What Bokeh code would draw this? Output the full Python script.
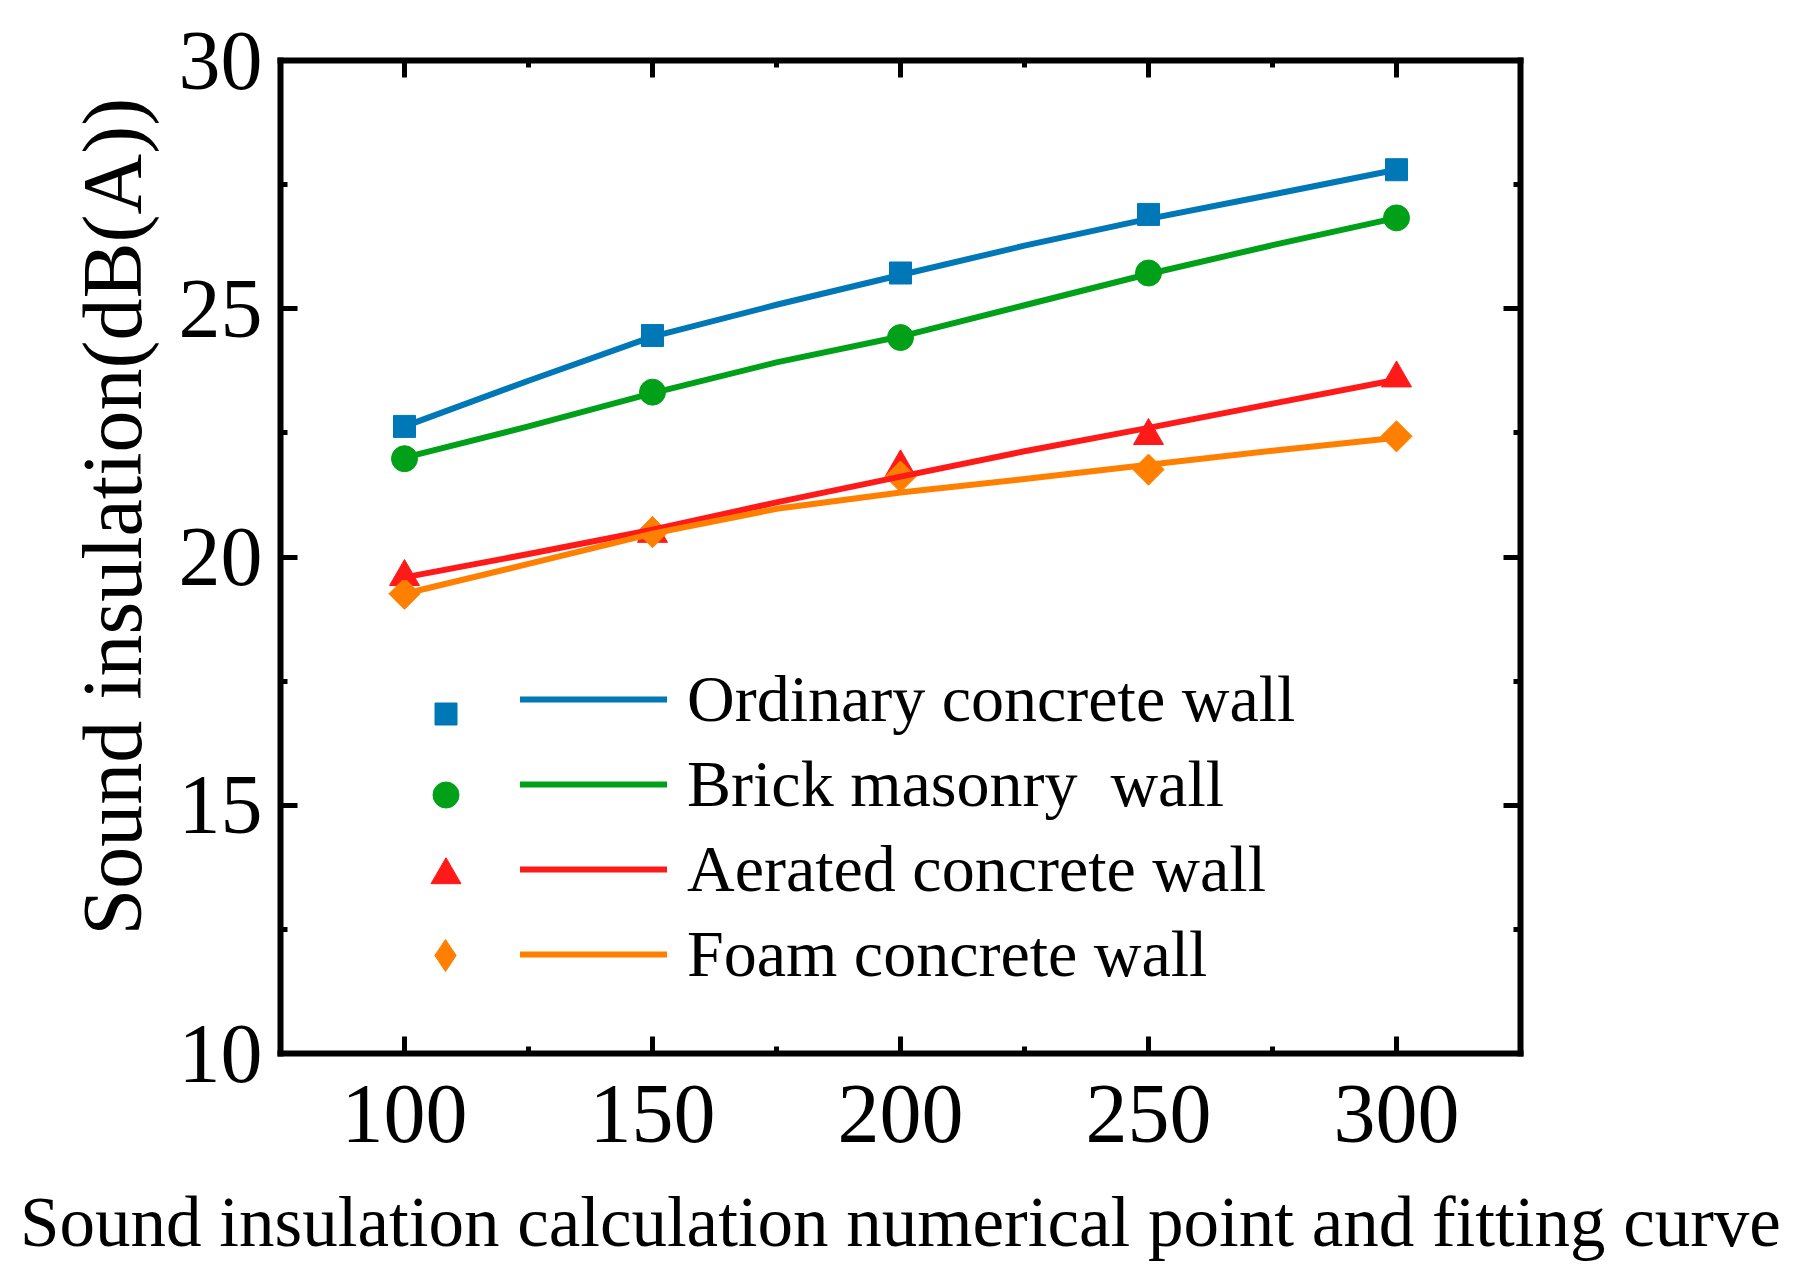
from math import pi
from bokeh.plotting import figure
from bokeh.models import (Range1d, FixedTicker, LinearAxis, Legend, LegendItem,
                          Title, CustomJSTickFormatter)
from bokeh.embed import file_html
from bokeh.resources import INLINE

# ---- data ----
thickness = [100, 150, 200, 250, 300]
ordinary = [22.63, 24.46, 25.72, 26.90, 27.80]
brick = [21.98, 23.32, 24.42, 25.72, 26.83]
aerated = [19.60, 20.47, 21.81, 22.44, 23.60]
foam = [19.26, 20.50, 21.62, 21.76, 22.43]

fit_x = [100, 125, 150, 175, 200, 225, 250, 275, 300]
ordinary_fit = [22.63, 23.55, 24.44, 25.08, 25.68, 26.27, 26.81, 27.30, 27.80]
brick_fit = [22.00, 22.63, 23.30, 23.92, 24.44, 25.07, 25.70, 26.28, 26.83]
aerated_fit = [19.59, 20.06, 20.55, 21.10, 21.62, 22.13, 22.60, 23.09, 23.57]
foam_fit = [19.26, 19.86, 20.47, 20.97, 21.30, 21.57, 21.86, 22.14, 22.40]

series_labels = ["Ordinary concrete wall", "Brick masonry  wall",
                 "Aerated concrete wall", "Foam concrete wall"]
x_ticks = [100, 150, 200, 250, 300]
x_minor = [125, 175, 225, 275]
y_ticks = [10, 15, 20, 25, 30]
y_minor = [12.5, 17.5, 22.5, 27.5]
x_title = "Sound insulation calculation numerical point and fitting curve"
y_title = "Sound insulation(dB(A))"

FONT = "Liberation Serif"
colors = ["#0077B6", "#00A019", "#FF1A1A", "#FF8000"]

p = figure(width=1788, height=1266, x_range=Range1d(75, 325), y_range=Range1d(10, 30),
           output_backend="svg", toolbar_location=None,
           min_border_left=280, min_border_right=268, min_border_top=60, min_border_bottom=213)
p.xgrid.visible = False
p.ygrid.visible = False
p.outline_line_color = None
p.background_fill_color = "white"
p.border_fill_color = "white"


def style_axis(ax):
    ax.axis_line_width = 6
    ax.axis_line_color = "black"
    ax.axis_line_cap = "square"
    ax.major_tick_in = 17
    ax.major_tick_out = 0
    ax.minor_tick_in = 7
    ax.minor_tick_out = 0
    ax.major_tick_line_width = 5
    ax.minor_tick_line_width = 5
    ax.major_tick_line_color = "black"
    ax.minor_tick_line_color = "black"
    ax.major_label_text_font = FONT
    ax.major_label_text_font_size = "84px"
    ax.major_label_text_color = "black"


xax = p.xaxis[0]
yax = p.yaxis[0]
xax.ticker = FixedTicker(ticks=x_ticks, minor_ticks=x_minor)
yax.ticker = FixedTicker(ticks=y_ticks, minor_ticks=y_minor)
style_axis(xax)
style_axis(yax)
xax.major_label_standoff = 32
yax.major_label_standoff = 18
xax.axis_label = x_title
xax.axis_label_text_font = FONT
xax.axis_label_text_font_size = "71px"
xax.axis_label_text_font_style = "normal"
xax.axis_label_text_color = "black"
xax.axis_label_standoff = 38

blank = CustomJSTickFormatter(code="return ''")
top = LinearAxis(ticker=FixedTicker(ticks=x_ticks, minor_ticks=x_minor), formatter=blank)
right = LinearAxis(ticker=FixedTicker(ticks=y_ticks, minor_ticks=y_minor), formatter=blank)
for ax in (top, right):
    style_axis(ax)
    ax.major_label_text_font_size = "1px"
    ax.major_label_standoff = 0
p.add_layout(top, "above")
p.add_layout(right, "right")

ytitle = Title(text=y_title, align="left", offset=118, standoff=33,
               text_font=FONT, text_font_size="84px", text_font_style="normal",
               text_color="black")
p.add_layout(ytitle, "left")

ys = [ordinary, brick, aerated, foam]
fits = [ordinary_fit, brick_fit, aerated_fit, foam_fit]
markers = [("square", 22, 0.0), ("circle", 26, 0.0), ("triangle", 30, 0.0), ("square", 22, pi / 4)]

marker_renderers = []
for yv, c, (m, s, a) in zip(ys, colors, markers):
    r = p.scatter(thickness, yv, marker=m, size=s, angle=a, fill_color=c, line_color=c, line_width=1)
    marker_renderers.append(r)

# legend key for the diamond (rotated squares lose their angle inside a legend)
diamond_key = p.scatter(thickness, foam, marker="diamond", size=32, fill_color=colors[3],
                        line_color=colors[3], visible=False)
legend_keys = marker_renderers[:3] + [diamond_key]

line_renderers = []
for fv, c in zip(fits, colors):
    r = p.line(fit_x, fv, line_width=6, line_color=c, line_cap="round", line_join="round")
    line_renderers.append(r)

# marker keys: one single-row legend each (sizes follow the reference keys)
key_boxes = [55, 65, 75, 80]
row_centers = [340, 259, 179, 98]      # px above the frame bottom
for r, g, cy in zip(legend_keys, key_boxes, row_centers):
    lg = Legend(items=[LegendItem(label="", renderers=[r])],
                location=(165 - g / 2, cy - g / 2), orientation="vertical",
                glyph_width=g, glyph_height=g, label_height=g, label_width=0,
                label_standoff=0, label_text_font_size="1px", spacing=0, padding=0, margin=0,
                border_line_color=None, background_fill_alpha=0)
    p.add_layout(lg)

leg_l = Legend(items=[LegendItem(label=t, renderers=[r]) for t, r in zip(series_labels, line_renderers)],
               location=(240, 61), orientation="vertical",
               glyph_width=147, glyph_height=56, label_height=72,
               label_standoff=20, label_text_font=FONT, label_text_font_size="66px",
               label_text_color="black", spacing=9, padding=0, margin=0,
               border_line_color=None, background_fill_alpha=0)
p.add_layout(leg_l)

open("out.html", "w").write(file_html(p, INLINE))
